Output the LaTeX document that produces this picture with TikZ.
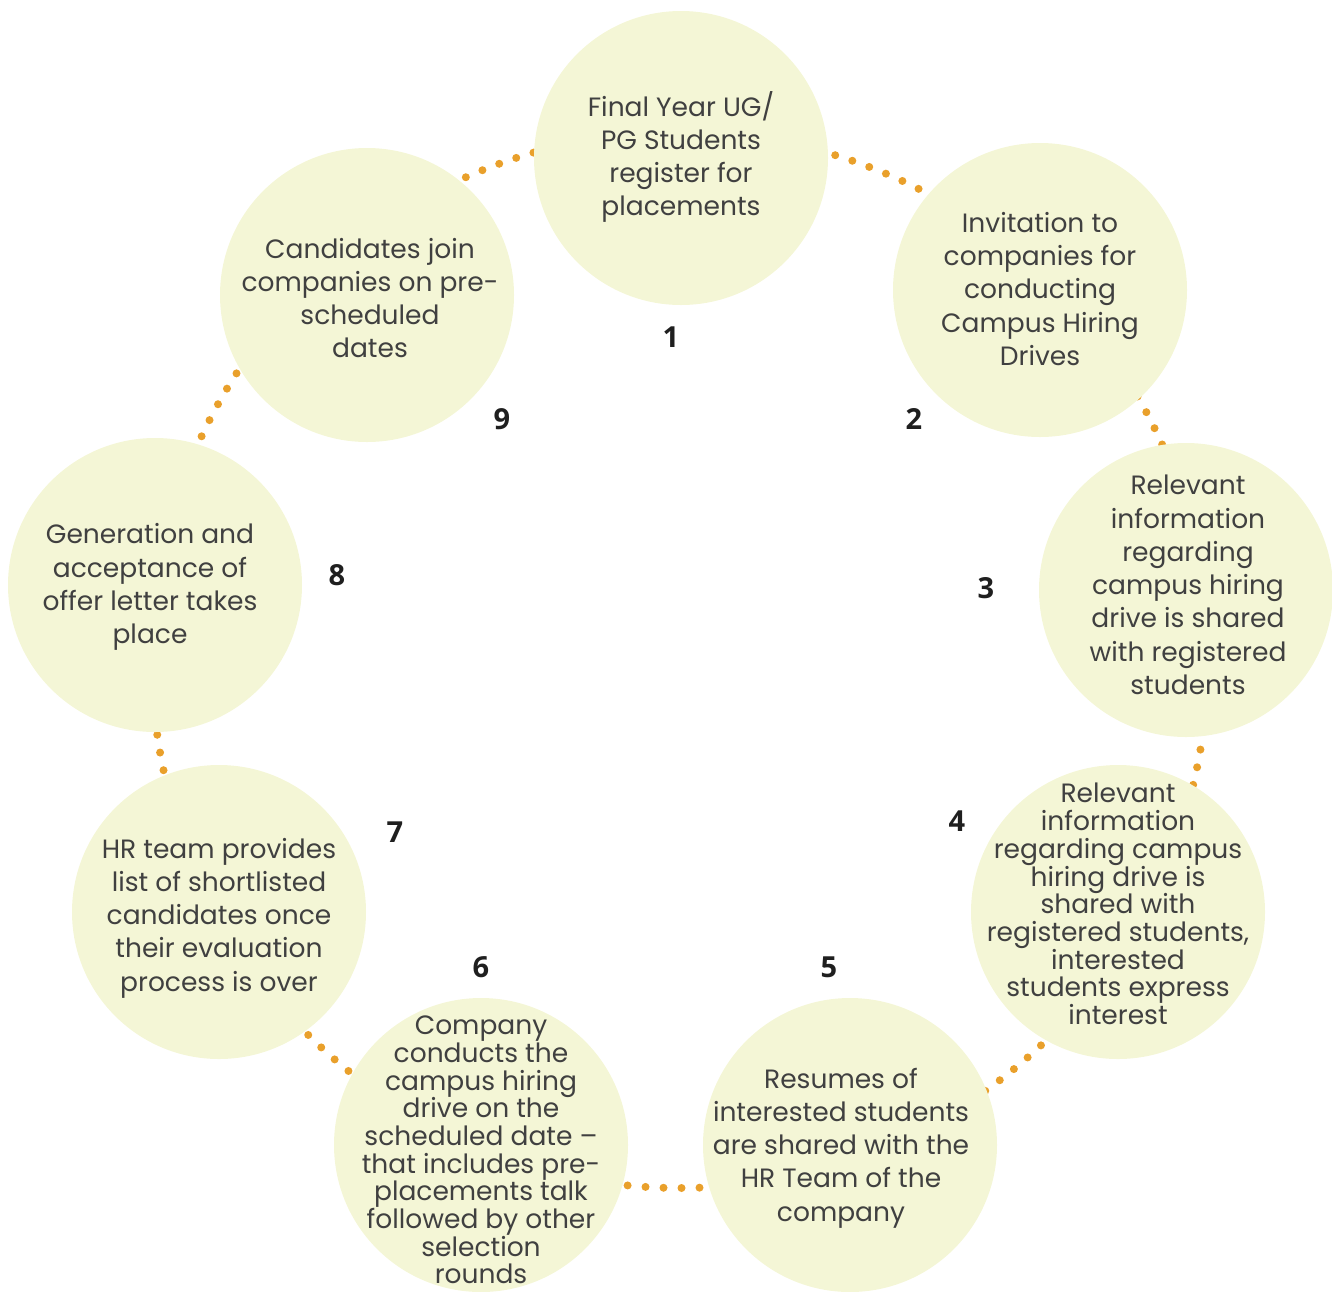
\documentclass[tikz,border=0pt]{standalone}
\usepackage{fontspec}
\setmainfont{Poppins}
\newfontfamily\numfont{Open Sans}
\definecolor{bubblefill}{HTML}{F4F6D6}
\definecolor{dotorange}{HTML}{E9A02B}
\definecolor{txtgrey}{HTML}{404040}
\tikzset{
  bubble/.style={circle, fill=bubblefill, minimum size=294pt, inner sep=0pt},
  txt/.style={align=center, text=txtgrey, font=\fontsize{26.5}{33.3}\selectfont, inner sep=0pt},
  txttight/.style={align=center, text=txtgrey, font=\fontsize{26.5}{27.7}\selectfont, inner sep=0pt},
  num/.style={font=\numfont\bfseries\fontsize{29}{30}\selectfont, text=black!88, inner sep=0pt},
  ring/.style={draw=dotorange, line width=8pt, line cap=round, dash pattern=on 0pt off 18pt}
}
\begin{document}
\begin{tikzpicture}[x=1pt,y=-1pt]
\useasboundingbox (0,0) rectangle (1332,1291);
\coordinate (ctr) at (680,660);
\draw[ring] (ctr) circle[radius=528];
\node[bubble] (c1) at (681,158) {};
\node[bubble] (c2) at (1040,290) {};
\node[bubble] (c3) at (1186,590) {};
\node[bubble] (c4) at (1118,912) {};
\node[bubble] (c5) at (850,1145) {};
\node[bubble] (c6) at (481,1145) {};
\node[bubble] (c7) at (219,912) {};
\node[bubble] (c8) at (155,585) {};
\node[bubble] (c9) at (367,295) {};
\node[txt] (t1) at (681,157) {Final Year UG/\\PG Students\\register for\\placements};
\node[txt] (t2) at (1040,289) {Invitation to\\companies for\\conducting\\Campus Hiring\\Drives};
\node[txt] (t3) at (1188,585) {Relevant\\information\\regarding\\campus hiring\\drive is shared\\with registered\\students};
\node[txttight] (t4) at (1118,904) {Relevant\\information\\regarding campus\\hiring drive is\\shared with\\registered students,\\interested\\students express\\interest};
\node[txt] (t5) at (841,1148) {Resumes of\\interested students\\are shared with the\\HR Team of the\\company};
\node[txttight] (t6) at (481,1150) {Company\\conducts the\\campus hiring\\drive on the\\scheduled date –\\that includes pre-\\placements talk\\followed by other\\selection\\rounds};
\node[txt] (t7) at (219,918) {HR team provides\\list of shortlisted\\candidates once\\their evaluation\\process is over};
\node[txt] (t8) at (150,587) {Generation and\\acceptance of\\offer letter takes\\place};
\node[txt] (t9) at (370,298) {Candidates join\\companies on pre-\\scheduled\\dates};
\node[num] (n1) at (671,337) {1};
\node[num] (n2) at (914,419) {2};
\node[num] (n3) at (986,588) {3};
\node[num] (n4) at (957,821) {4};
\node[num] (n5) at (829,967) {5};
\node[num] (n6) at (481,967) {6};
\node[num] (n7) at (395,832) {7};
\node[num] (n8) at (337,575) {8};
\node[num] (n9) at (502,419) {9};
\end{tikzpicture}
\end{document}
